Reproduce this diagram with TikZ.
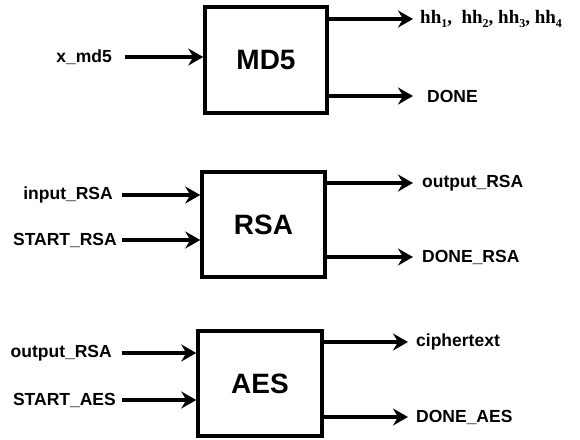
\documentclass[tikz,border=0pt]{standalone}
\usepackage{fontspec}
\setmainfont{Liberation Sans}
\newfontfamily\serifbold{Liberation Serif}
\newcommand\hsub[1]{\raisebox{-3.5pt}{\fontsize{12}{12}\selectfont #1}}
\usetikzlibrary{arrows.meta}
\begin{document}
\begin{tikzpicture}[x=1pt,y=-1pt,
  blockbox/.style={draw,line width=3.5pt,minimum width=122pt,minimum height=106pt,inner sep=0pt,
    font=\fontsize{28}{30}\selectfont\bfseries},
  inlabel/.style={anchor=east,inner xsep=3pt,inner ysep=0pt,font=\fontsize{17.5}{19}\selectfont\bfseries},
  outlabel/.style={anchor=west,inner xsep=7pt,inner ysep=0pt,font=\fontsize{17.5}{19}\selectfont\bfseries},
  sig/.style={line width=4pt,-{Stealth[length=15pt,width=17pt,inset=5pt]}}]
\useasboundingbox (0,0) rectangle (580,439);
% MD5
\node[blockbox] (md5) at (266,60) {MD5};
\node[inlabel,inner xsep=13pt] (xmd5) at (125,57) {x\_md5};
\node[outlabel] (hh) at (413,19) {\serifbold\fontsize{19}{21}\selectfont hh\hsub{1},\ \ hh\hsub{2}, hh\hsub{3}, hh\hsub{4}};
\node[outlabel,inner xsep=14pt] (done) at (413,96) {DONE};
\draw[sig] (xmd5.east) -- (md5.west |- xmd5.east);
\draw[sig] (md5.east |- hh.west) -- (hh.west);
\draw[sig] (md5.east |- done.west) -- (done.west);
% RSA
\node[blockbox,minimum width=123pt,minimum height=105pt] (rsa) at (263.5,224.5) {RSA};
\node[inlabel,inner xsep=9pt] (inrsa) at (122,195) {input\_RSA};
\node[inlabel,inner xsep=5pt] (startrsa) at (122,240) {START\_RSA};
\node[outlabel,inner xsep=9pt] (outrsa) at (413,183) {output\_RSA};
\node[outlabel,inner xsep=9pt] (donersa) at (413,257) {DONE\_RSA};
\draw[sig] (inrsa.east) -- (rsa.west |- inrsa.east);
\draw[sig] (startrsa.east) -- (rsa.west |- startrsa.east);
\draw[sig] (rsa.east |- outrsa.west) -- (outrsa.west);
\draw[sig] (rsa.east |- donersa.west) -- (donersa.west);
% AES
\node[blockbox,minimum width=124pt,minimum height=105pt] (aes) at (260,383.5) {AES};
\node[inlabel,inner xsep=10pt] (inaes) at (122,353) {output\_RSA};
\node[inlabel,inner xsep=6pt] (startaes) at (122,400) {START\_AES};
\node[outlabel,inner xsep=8pt] (cipher) at (408,342) {ciphertext};
\node[outlabel,inner xsep=8pt] (doneaes) at (408,417) {DONE\_AES};
\draw[sig] (inaes.east) -- (aes.west |- inaes.east);
\draw[sig] (startaes.east) -- (aes.west |- startaes.east);
\draw[sig] (aes.east |- cipher.west) -- (cipher.west);
\draw[sig] (aes.east |- doneaes.west) -- (doneaes.west);
\end{tikzpicture}
\end{document}
